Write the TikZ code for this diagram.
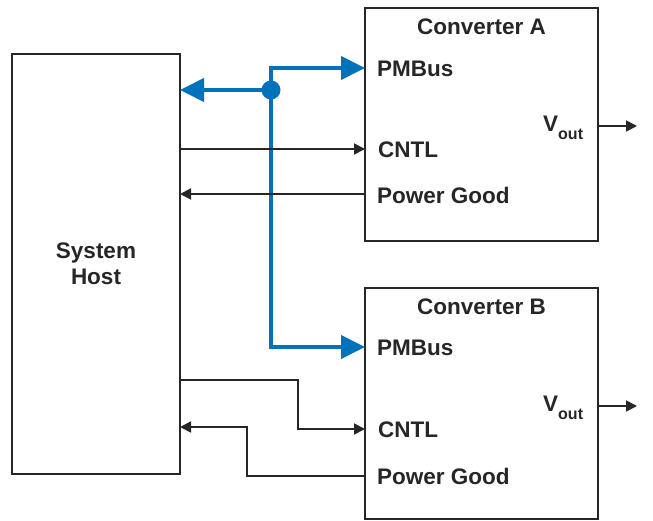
\documentclass[tikz,border=0pt]{standalone}
\usepackage{fontspec}
\setmainfont{Liberation Sans}
\usetikzlibrary{arrows.meta}
\definecolor{tiblue}{RGB}{0,114,188}
\begin{document}
\begin{tikzpicture}[x=1pt,y=-1pt,
  blk/.style={draw=black!85,line width=2pt,minimum width=#1,inner sep=0pt},
  lbl/.style={font=\fontsize{22.5}{26}\selectfont\bfseries,text=black!85,inner sep=0pt},
  sig/.style={draw=black!85,line width=1.8pt,-{Triangle[length=11pt,width=11pt]}},
  bus/.style={draw=tiblue,line width=4pt,-{Triangle[length=24pt,width=23pt]}}]
\useasboundingbox (0,0) rectangle (653,521);
% boxes
\node[blk=168pt,minimum height=420pt] (host) at (96,264) {};
\node[blk=233pt,minimum height=233pt] (ca) at (481.5,124.5) {};
\node[blk=233pt,minimum height=231pt] (cb) at (481.5,403.5) {};
% labels
\node[lbl,align=center] (hostl) at (96,264) {System\\Host};
\node[lbl] (cat) at (481.5,27) {Converter A};
\node[lbl] (cbt) at (481.5,307) {Converter B};
\node[lbl,anchor=west] (pa) at (377,69) {PMBus};
\node[lbl,anchor=west] (na) at (378,150) {CNTL};
\node[lbl,anchor=west] (ga) at (377,195) {Power Good};
\node[lbl,anchor=west] (pb) at (377,348) {PMBus};
\node[lbl,anchor=west] (nb) at (378,430) {CNTL};
\node[lbl,anchor=west] (gb) at (377,476) {Power Good};
\node[lbl,anchor=west] (va) at (543,128) {V\raisebox{-0.35em}{\fontsize{16}{19}\selectfont out}};
\node[lbl,anchor=west] (vb) at (543,408) {V\raisebox{-0.35em}{\fontsize{16}{19}\selectfont out}};
% coordinates
\coordinate (dot) at (271,90);
\coordinate (hbus) at (180,90);
\coordinate (abus) at (365,68);
\coordinate (bbus) at (365,347);
\coordinate (vae) at (637,126);
\coordinate (vbe) at (637,406);
% blue bus
\draw[bus] (dot) -- (hbus);
\draw[bus] (dot) |- (abus);
\draw[bus] (dot) |- (bbus);
\fill[tiblue] (dot) circle (9.5pt);
% converter A signals
\draw[sig] (180,149) -- (365,149);
\draw[sig] (365,194) -- (180,194);
\draw[sig] (598,126) -- (vae);
% converter B signals
\draw[sig] (180,380) -- (298,380) -- (298,429) -- (365,429);
\draw[sig] (365,476) -- (247,476) -- (247,427) -- (180,427);
\draw[sig] (598,406) -- (vbe);
\end{tikzpicture}
\end{document}
